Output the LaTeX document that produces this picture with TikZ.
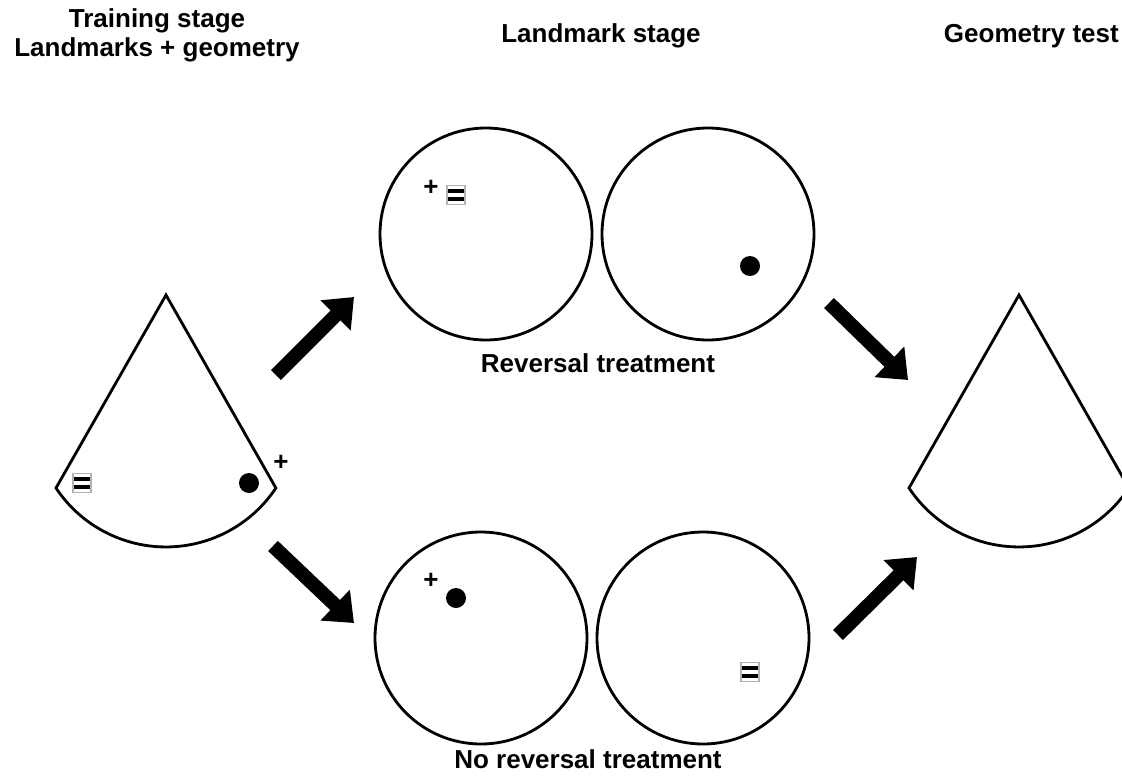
\documentclass[tikz,border=0pt]{standalone}
\usepackage{fontspec}
\setmainfont{Liberation Sans}
\usetikzlibrary{arrows.meta}

\begin{document}
\begin{tikzpicture}[x=1pt, y=-1pt,
	arena/.style={circle, draw, line width=2.8pt, minimum size=212pt, inner sep=0pt},
	goal/.style={circle, fill, minimum size=20pt, inner sep=0pt},
	cue/.style={font=\fontsize{26}{28}\selectfont\bfseries, inner sep=0pt},
	caption/.style={font=\fontsize{26}{29}\selectfont\bfseries, align=center, inner sep=0pt},
	stagearrow/.style={line width=14pt, -{Triangle[width=41pt,length=26pt]}},
	landmark/.style={draw=gray!60, line width=1.2pt, fill=white, minimum width=18pt, minimum height=19pt, inner sep=0pt,
		path picture={
			\fill[black] ([yshift=1.7pt]path picture bounding box.west) rectangle ([yshift=6pt]path picture bounding box.east);
			\fill[black] ([yshift=-1.7pt]path picture bounding box.west) rectangle ([yshift=-6pt]path picture bounding box.east);
		}}]
			\clip (0,0) rectangle (1122,776);
			%titles
			\node[caption] (train) at (157,35) {Training stage\\Landmarks + geometry};
			\node[caption] (lmstage) at (601,36) {Landmark stage};
			\node[caption, anchor=east] (geotest) at (1119,36) {Geometry test};
			%training fan
			\draw[line width=2.8pt, line join=miter] (166,295) -- (56,488) arc (146.4:33.6:132) -- cycle;
			\node[landmark] (trainlm) at (82,483) {};
			\node[goal] (traingoal) at (249,483) {};
			\node[cue] (trainplus) at (281,463) {+};
			%reversal arenas
			\node[arena] (revA) at (486,234) {};
			\node[arena] (revB) at (708,234) {};
			\node[cue] (revplus) at (431,188) {+};
			\node[landmark] (revlm) at (456,195) {};
			\node[goal] (revgoal) at (750,266) {};
			\node[caption] (revtxt) at (598,363) {Reversal treatment};
			%no reversal arenas
			\node[arena] (norevA) at (481,638) {};
			\node[arena] (norevB) at (703,638) {};
			\node[cue] (norevplus) at (431,581) {+};
			\node[goal] (norevgoal) at (456,598) {};
			\node[landmark] (norevlm) at (750,672) {};
			\node[caption] (norevtxt) at (588,759) {No reversal treatment};
			%test fan
			\draw[line width=2.8pt, line join=miter] (1019,295) -- (909,488) arc (146.4:33.6:132) -- cycle;
			%arrows
			\coordinate (up1s) at (276,375);
			\coordinate (up1e) at (354,297);
			\coordinate (dn1s) at (273,546);
			\coordinate (dn1e) at (354,623);
			\coordinate (dn2s) at (829,303);
			\coordinate (dn2e) at (908,380);
			\coordinate (up2s) at (838,635);
			\coordinate (up2e) at (917,557);
			\draw[stagearrow] (up1s) -- (up1e);
			\draw[stagearrow] (dn1s) -- (dn1e);
			\draw[stagearrow] (dn2s) -- (dn2e);
			\draw[stagearrow] (up2s) -- (up2e);
		\end{tikzpicture}
\end{document}
